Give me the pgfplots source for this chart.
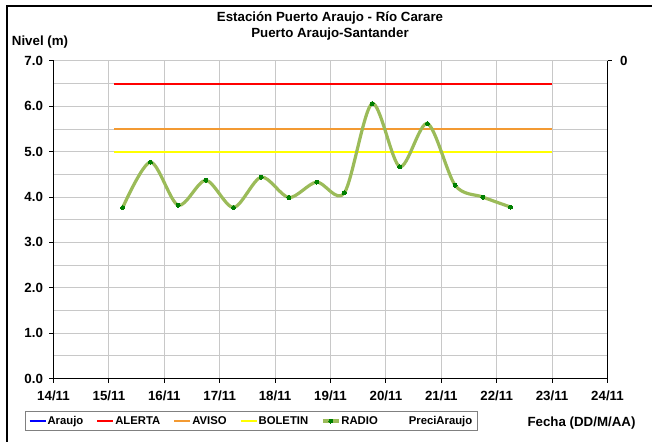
\documentclass[border=0pt]{standalone}
\usepackage{pgfplots}
\pgfplotsset{compat=1.18}
\usepackage{fontspec}
\setmainfont{Liberation Sans}
\definecolor{alerta}{HTML}{FF0000}
\definecolor{aviso}{HTML}{F39A32}
\definecolor{boletin}{HTML}{FFFF00}
\definecolor{radio}{HTML}{9BBB59}
\definecolor{radiomark}{HTML}{008000}
\definecolor{gridc}{HTML}{C8C8C8}
\newcommand{\bigf}{\fontsize{13.3}{15}\selectfont\bfseries}
\newcommand{\legf}{\fontsize{11.3}{12}\selectfont\bfseries}
\begin{document}
\begin{tikzpicture}
\useasboundingbox (-53.5pt,-62.5pt) rectangle (598.5pt,378.5pt);
\begin{axis}[
  at={(0pt,0pt)}, anchor=south west,
  scale only axis, width=554pt, height=317.5pt,
  xmin=14, xmax=24, ymin=0, ymax=7,
  xtick={14,...,24},
  xticklabels={14/11,15/11,16/11,17/11,18/11,19/11,20/11,21/11,22/11,23/11,24/11},
  ytick={0,1,...,7},
  minor ytick={0.5,1.5,...,6.5},
  grid=both,
  major grid style={draw=gridc, line width=1pt},
  minor grid style={draw=gridc, line width=1pt},
  axis x line*=bottom, axis y line*=left,
  axis line style={black, line width=1pt},
  tick align=outside, major tick length=4pt, minor tick length=0pt,
  tick style={black, line width=1pt},
  ticklabel style={font=\bigf},
  xticklabel style={yshift=-5pt},
  yticklabel style={xshift=-3pt, /pgf/number format/fixed, /pgf/number format/fixed zerofill, /pgf/number format/precision=1, /pgf/number format/assume math mode=true},
  legend columns=6,
  legend style={at={(-0.0514,-0.1339)}, anchor=west, draw=gray, line width=1pt, font=\legf,
    inner xsep=3pt, inner ysep=3pt,
    /tikz/every odd column/.append style={column sep=-1pt},
    /tikz/every even column/.append style={column sep=11pt}},
  legend image code/.code={\draw[mark repeat=2,mark phase=2,#1] plot coordinates {(0pt,0pt) (8pt,0pt) (16pt,0pt)};},
]
\addlegendimage{blue, line width=2pt}
\addlegendentry{Araujo}
\addplot[alerta, line width=2pt] coordinates {(15.1,6.5) (23,6.5)};
\addlegendentry{ALERTA}
\addplot[aviso, line width=2pt] coordinates {(15.1,5.5) (23,5.5)};
\addlegendentry{AVISO}
\addplot[boletin, line width=2pt] coordinates {(15.1,5.0) (23,5.0)};
\addlegendentry{BOLETIN}
\addplot[radio, line width=3.2pt, smooth, mark=*, mark size=2pt, mark options={fill=radiomark, draw=radiomark, line width=0pt}] coordinates {
(15.25,3.77) (15.75,4.77) (16.25,3.82) (16.75,4.37) (17.25,3.77) (17.75,4.44) (18.25,3.99) (18.75,4.33) (19.25,4.09) (19.75,6.06) (20.25,4.67) (20.75,5.62) (21.25,4.26) (21.75,4.00) (22.25,3.78)};
\addlegendentry{RADIO}
\addlegendimage{draw opacity=0}
\addlegendentry{PreciAraujo}
\end{axis}
\begin{axis}[
  at={(0pt,0pt)}, anchor=south west,
  scale only axis, width=554pt, height=317.5pt,
  xmin=14, xmax=24, ymin=0, ymax=1, y dir=reverse,
  hide x axis, axis y line*=right,
  ytick={0}, yticklabels={0},
  axis line style={black, line width=1pt},
  tick align=outside, major tick length=4pt,
  tick style={black, line width=1pt},
  ticklabel style={font=\bigf},
  yticklabel style={xshift=5pt},
]
\addplot[draw=none] coordinates {(14,0)};
\end{axis}
\node[align=center, font=\bigf] at (276.5pt,352.5pt) {Estación Puerto Araujo - Río Carare\\[0.5pt]Puerto Araujo-Santander};
\node[font=\bigf] at (-13.5pt,336.5pt) {Nivel (m)};
\node[font=\bigf] at (528pt,-44.2pt) {Fecha (DD/M/AA)};
\draw[line width=2.3pt] (-46.5pt,-70pt) -- (-46.5pt,372.5pt) -- (610pt,372.5pt);
\end{tikzpicture}
\end{document}
